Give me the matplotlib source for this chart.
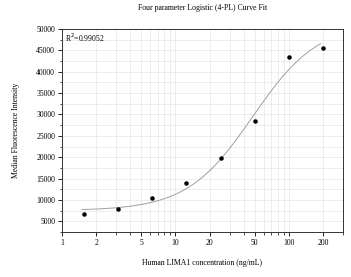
import numpy as np
import matplotlib.pyplot as plt
from matplotlib.ticker import MultipleLocator, LogLocator, FixedLocator, FixedFormatter

# standard points (ng/mL) and median fluorescence
conc = [1.5625, 3.125, 6.25, 12.5, 25, 50, 100, 200]
mfi = [6800, 7900, 10400, 13900, 19700, 28500, 43500, 45600]

# 4-PL fit parameters (bottom, top, EC50, hill slope)
fit_bottom = 7500
fit_top = 51500
fit_ec50 = 48
fit_hill = 1.5
r2_text = "R$^2$=0.99052"

xticks = [1, 2, 5, 10, 20, 50, 100, 200]

plt.rcParams['font.family'] = ['Liberation Serif', 'DejaVu Serif']

fig = plt.figure(figsize=(3.51, 2.77), dpi=100)
ax = fig.add_axes([62 / 351, 1 - 232 / 277, (343 - 62) / 351, (232 - 29) / 277])

xs = np.logspace(np.log10(1.5), np.log10(190), 200)
ys = fit_top + (fit_bottom - fit_top) / (1 + (xs / fit_ec50) ** fit_hill)
ax.plot(xs, ys, color='#a0a0a0', lw=0.7, zorder=2)
ax.scatter(conc, mfi, s=5, color='black', zorder=3)

ax.set_xscale('log')
ax.set_xlim(1, 300)
ax.set_ylim(2500, 50000)
ax.xaxis.set_major_locator(FixedLocator(xticks))
ax.xaxis.set_major_formatter(FixedFormatter([str(t) for t in xticks]))
ax.xaxis.set_minor_locator(LogLocator(base=10, subs=np.arange(1, 10)))
ax.yaxis.set_major_locator(MultipleLocator(5000))
ax.yaxis.set_minor_locator(MultipleLocator(2500))

ax.grid(which='both', color='#e6e6e6', lw=0.5, zorder=0)
ax.set_axisbelow(True)
ax.tick_params(which='major', direction='out', length=3, width=0.6, labelsize=5.5, pad=2)
ax.tick_params(which='minor', direction='out', length=1.8, width=0.5)
ax.tick_params(axis='x', which='minor', labelbottom=False)
for s in ax.spines.values():
    s.set_linewidth(0.7)
    s.set_color('#333333')

ax.text(0.012, 0.985, r2_text, transform=ax.transAxes, ha='left', va='top', fontsize=5.5)
ax.set_title("Four parameter Logistic (4-PL) Curve Fit", fontsize=5.6, pad=14)
ax.set_xlabel("Human LIMA1 concentration (ng/mL)", fontsize=5.6, labelpad=9)
ax.set_ylabel("Median Fluorescence Intensity", fontsize=5.6, labelpad=12)

fig.savefig('out.png', dpi=100)
